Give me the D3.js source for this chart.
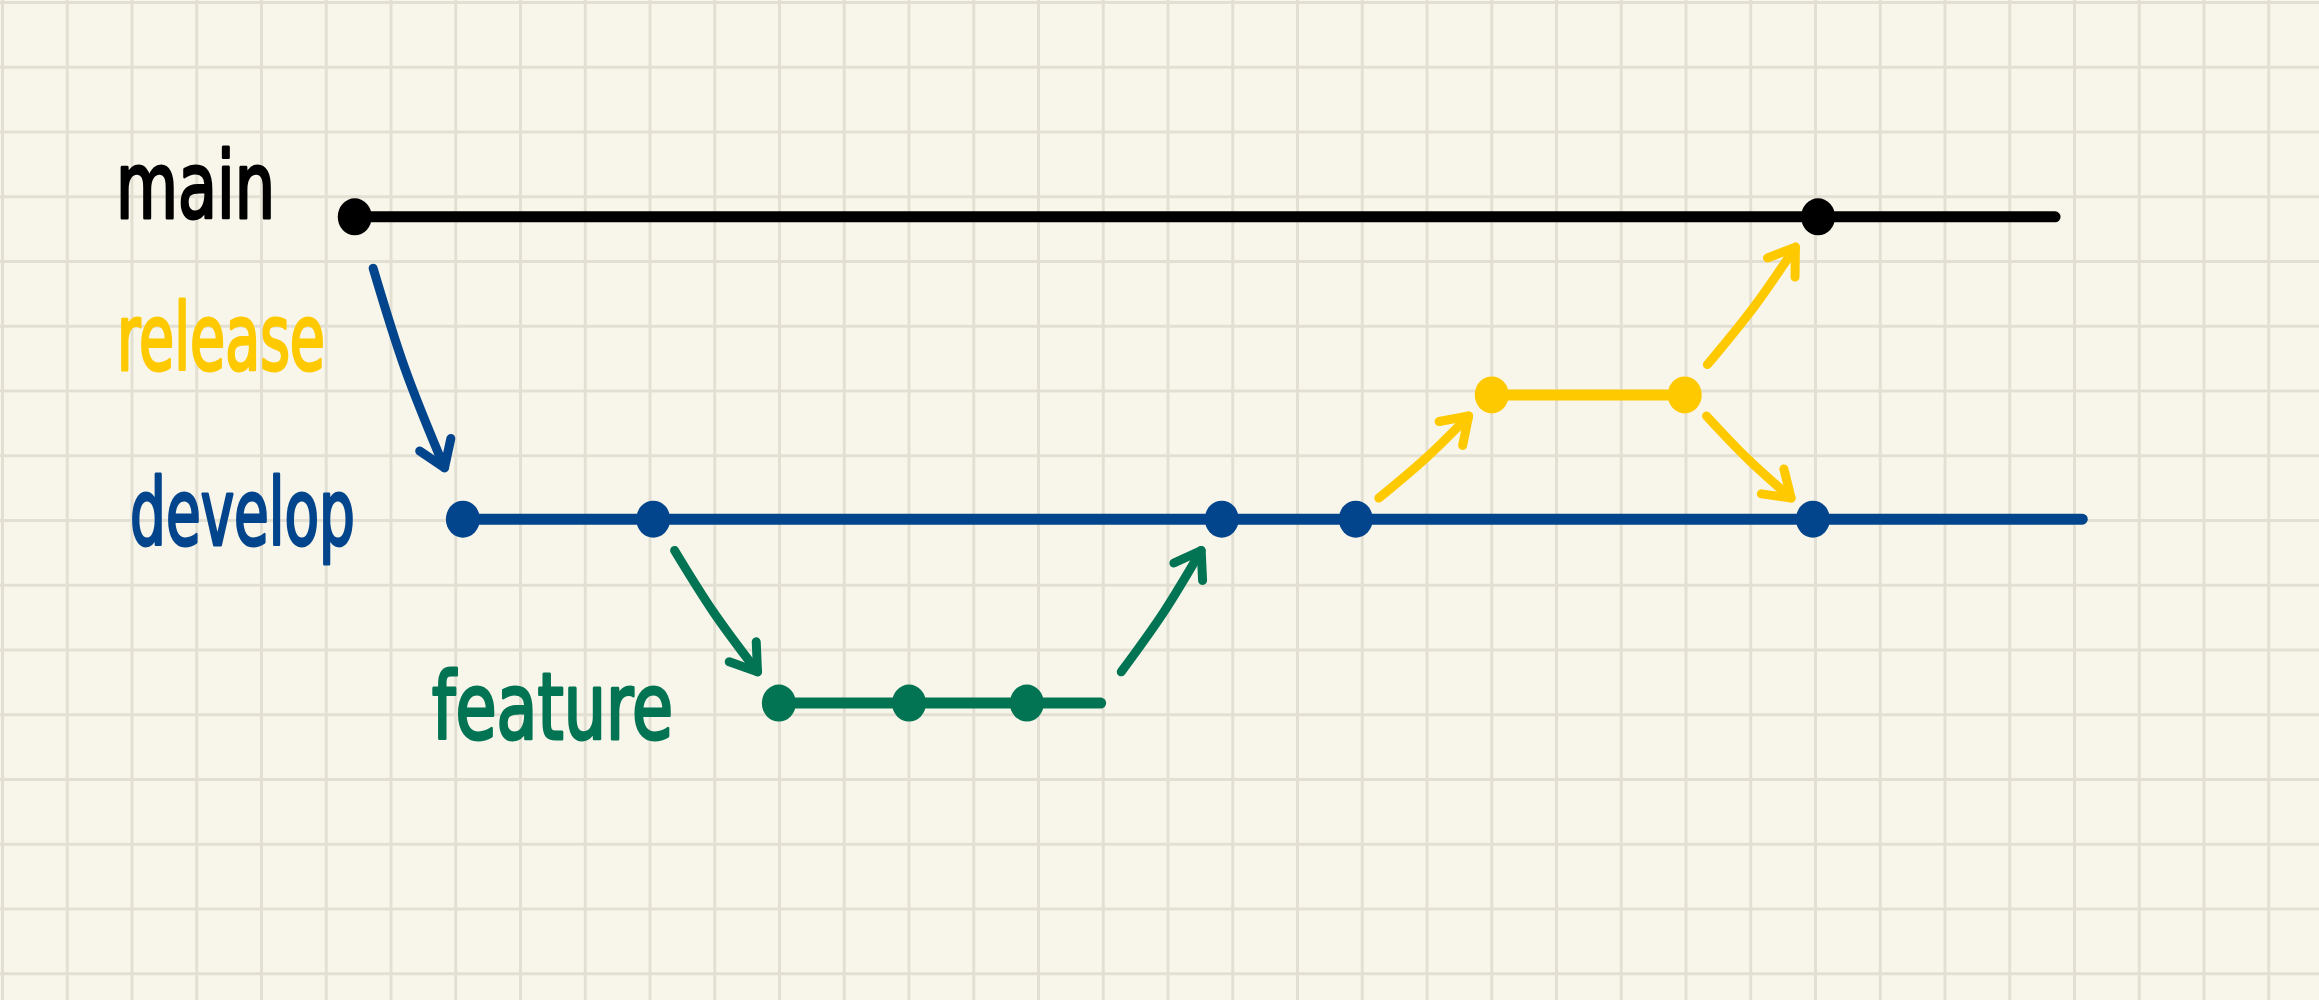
<!DOCTYPE html>
<html>
<head>
<meta charset="utf-8">
<script src="https://cdn.jsdelivr.net/npm/d3@7"></script>
<style>
  html, body { margin: 0; padding: 0; background: #f8f6ea; overflow: hidden; }
  svg { display: block; }
</style>
</head>
<body>
<div id="chart"></div>
<script>
// branches, top to bottom
var branches = ["main", "release", "develop", "feature"];
var branchColors = ["#000000", "#ffc900", "#03458c", "#027453"];
var branchDepth = [0, 2, 1, 2];
// lane of each branch, in grid rows
var branchLane = [3.31, 6.06, 7.98, 10.82];
// where each branch line stops, in grid columns
var branchEnd = [31.7, 25.98, 32.12, 16.96];

// commits per branch, in grid columns
var mainCommits = [5.44, 28.04];
var releaseCommits = [23.0, 25.98];
var developCommits = [7.11, 10.05, 18.83, 20.9, 27.96];
var featureCommits = [11.99, 14.0, 15.82];

// branch-offs and merges
var mergeFrom   = ["main", "develop", "feature", "develop", "release", "release"];
var mergeFromAt = [5.44, 10.05, 16.96, 20.9, 25.98, 25.98];
var mergeTo     = ["develop", "feature", "develop", "release", "main", "develop"];
var mergeToAt   = [7.11, 11.99, 18.83, 23.0, 28.04, 27.96];

function generate() {

  // Setup
  var width = 2319;
  var height = 1000;
  var cell = 64.75;
  var origin = 2.5;

  var x = d3.scaleLinear().domain([0, 1]).range([origin, origin + cell]);
  var y = d3.scaleLinear().domain([0, 1]).range([origin, origin + cell]);

  var commitsOf = {
    main: mainCommits,
    release: releaseCommits,
    develop: developCommits,
    feature: featureCommits
  };

  var color = d3.scaleOrdinal().domain(branches).range(branchColors);
  var lane = d3.scaleOrdinal().domain(branches).range(branchLane);
  var depth = d3.scaleOrdinal().domain(branches).range(branchDepth);

  // label spots: x start, baseline, width (pixels)
  var labelSpots = {
    main: [114, 220, 163],
    release: [115, 372, 212],
    develop: [128, 547, 229],
    feature: [430, 741, 245]
  };

  var svg = d3.select("#chart")
    .append("svg")
    .attr("width", width)
    .attr("height", height);

  svg.append("rect")
    .attr("width", width)
    .attr("height", height)
    .attr("fill", "#f8f6ea");

  // Grid paper
  var grid = svg.append("g").attr("class", "grid")
    .attr("stroke", "#e3e0d3")
    .attr("stroke-width", 3);

  grid.selectAll(".vline")
    .data(d3.range(0, 37))
    .enter()
    .append("line")
    .attr("class", "vline")
    .attr("x1", function(d) { return x(d); })
    .attr("x2", function(d) { return x(d); })
    .attr("y1", 0)
    .attr("y2", height);

  grid.selectAll(".hline")
    .data(d3.range(0, 16))
    .enter()
    .append("line")
    .attr("class", "hline")
    .attr("x1", 0)
    .attr("x2", width)
    .attr("y1", function(d) { return y(d); })
    .attr("y2", function(d) { return y(d); });

  // Branch lines
  svg.selectAll(".branch")
    .data(branches)
    .enter()
    .append("line")
    .attr("class", "branch")
    .attr("x1", function(b) { return x(commitsOf[b][0]); })
    .attr("x2", function(b, i) { return x(branchEnd[i]); })
    .attr("y1", function(b) { return y(lane(b)); })
    .attr("y2", function(b) { return y(lane(b)); })
    .attr("stroke", function(b) { return color(b); })
    .attr("stroke-width", 11)
    .attr("stroke-linecap", "round");

  // Commits, drawn as slightly squashed blobs like a marker dot
  branches.forEach(function(b) {
    svg.selectAll(".commit-" + b)
      .data(commitsOf[b])
      .enter()
      .append("ellipse")
      .attr("class", "commit-" + b)
      .attr("cx", function(d) { return x(d); })
      .attr("cy", y(lane(b)))
      .attr("rx", 17)
      .attr("ry", 18.5)
      .attr("fill", color(b));
  });

  // Merge arrows
  var merges = mergeFrom.map(function(f, i) {
    return { from: f, fromAt: mergeFromAt[i], to: mergeTo[i], toAt: mergeToAt[i] };
  });

  var t0 = 0.17, t1 = 0.83;
  var curve = d3.line().curve(d3.curveNatural);

  var arrows = svg.selectAll(".merge")
    .data(merges)
    .enter()
    .append("g")
    .attr("class", "merge")
    .attr("fill", "none")
    .attr("stroke", function(d) {
      return depth(d.from) > depth(d.to) ? color(d.from) : color(d.to);
    })
    .attr("stroke-width", 9)
    .attr("stroke-linecap", "round")
    .attr("stroke-linejoin", "round");

  arrows.each(function(d) {
    var sx = x(d.fromAt), sy = y(lane(d.from));
    var tx = x(d.toAt), ty = y(lane(d.to));
    var dx = tx - sx, dy = ty - sy;
    var len = Math.sqrt(dx * dx + dy * dy);
    var p0 = [sx + dx * t0, sy + dy * t0];
    var p1 = [sx + dx * t1, sy + dy * t1];
    // tiny bend so it looks drawn by hand
    var bend = len * 0.012;
    var mid = [sx + dx * 0.5 - dy / len * bend, sy + dy * 0.5 + dx / len * bend];

    var g = d3.select(this);
    g.append("path").attr("d", curve([p0, mid, p1]));

    // head
    var a = Math.atan2(p1[1] - mid[1], p1[0] - mid[0]);
    var arm = 30;
    var spread = 34 * Math.PI / 180;
    var left = [p1[0] - arm * Math.cos(a - spread), p1[1] - arm * Math.sin(a - spread)];
    var right = [p1[0] - arm * Math.cos(a + spread), p1[1] - arm * Math.sin(a + spread)];
    g.append("path").attr("d", d3.line()([left, p1, right]));
  });

  // Branch labels
  svg.selectAll(".label")
    .data(branches)
    .enter()
    .append("text")
    .attr("class", "label")
    .attr("x", function(b) { return labelSpots[b][0] + 2; })
    .attr("y", function(b) { return labelSpots[b][1] - 2; })
    .attr("textLength", function(b) { return labelSpots[b][2] - 4; })
    .attr("lengthAdjust", "spacingAndGlyphs")
    .attr("font-family", "'Liberation Sans Narrow', 'DejaVu Sans Condensed', sans-serif")
    .attr("font-size", 92)
    .attr("fill", function(b) { return color(b); })
    .attr("stroke", function(b) { return color(b); })
    .attr("stroke-width", 3)
    .attr("stroke-linejoin", "round")
    .text(function(b) { return b; });
}

generate();
</script>
</body>
</html>
